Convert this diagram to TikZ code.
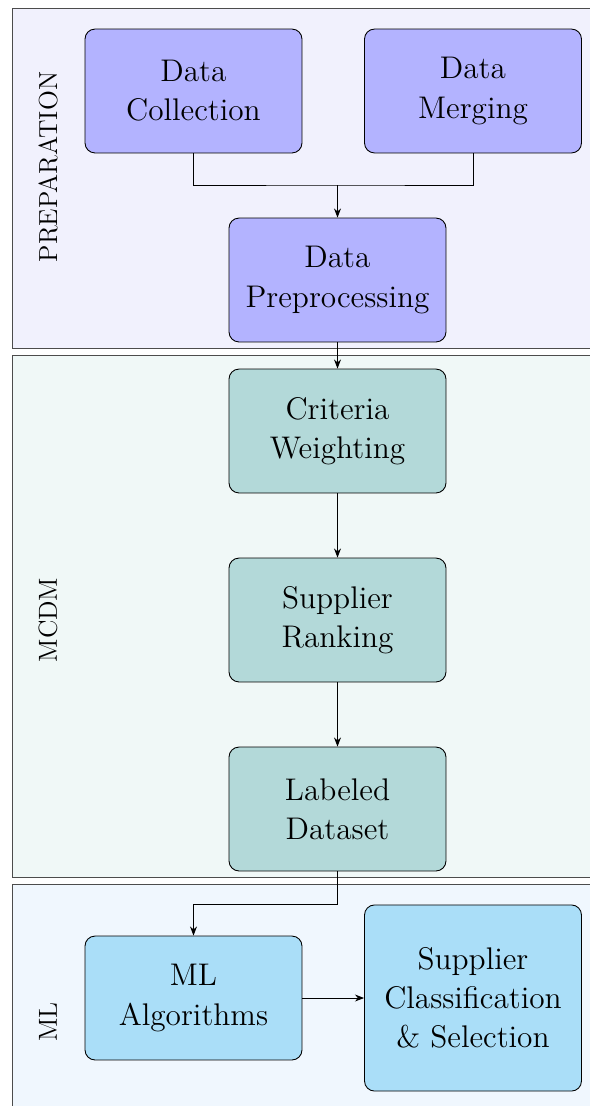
\documentclass[tikz,border=0pt]{standalone}
\usetikzlibrary{arrows.meta}
\definecolor{prepbg}{RGB}{241,241,253}
\definecolor{prepbox}{RGB}{179,179,255}
\definecolor{mcdmbg}{RGB}{240,248,247}
\definecolor{mcdmbox}{RGB}{179,217,217}
\definecolor{mlbg}{RGB}{240,247,254}
\definecolor{mlbox}{RGB}{170,222,248}
\tikzset{
  stage/.style={draw=black!70, line width=0.45pt},
  stagelabel/.style={rotate=90, font=\large, inner sep=0pt},
  proc/.style={draw=black, line width=0.4pt, rounded corners=4.6pt,
    minimum width=99.8pt, minimum height=57pt, align=center,
    font=\Large, inner sep=2pt},
  link/.style={draw=black, line width=0.4pt},
  flow/.style={link, -{Stealth[length=4.2pt,width=3.2pt]}}
}
\begin{document}
\begin{tikzpicture}[x=0.46pt, y=-0.46pt]
\clip (0,0) rectangle (590,1106);
\fill[white] (0,0) rectangle (590,1106);

% stage frames
\draw[stage, fill=prepbg] (12,8) rectangle (620,348);
\draw[stage, fill=mcdmbg] (12,355) rectangle (620,877);
\draw[stage, fill=mlbg] (12,884) rectangle (620,1160);

\node[stagelabel] (lprep) at (48,167) {PREPARATION};
\node[stagelabel] (lmcdm) at (48,620) {MCDM};
\node[stagelabel] (lml) at (48,1022) {ML};

% process steps
\node[proc, fill=prepbox] (collect) at (193.5,91) {Data\\Collection};
\node[proc, fill=prepbox] (merge) at (473,91) {Data\\Merging};
\node[proc, fill=prepbox] (prep) at (337.5,280) {Data\\Preprocessing};
\node[proc, fill=mcdmbox] (weight) at (337.5,431) {Criteria\\Weighting};
\node[proc, fill=mcdmbox] (rank) at (337.5,620) {Supplier\\Ranking};
\node[proc, fill=mcdmbox] (label) at (337.5,809) {Labeled\\Dataset};
\node[proc, fill=mlbox] (algo) at (193.5,998) {ML\\Algorithms};
\node[proc, fill=mlbox, minimum height=85.6pt] (select) at (473,998) {Supplier\\Classification\\\& Selection};

\coordinate (join) at (337.5,185);
\coordinate (turn) at (337.5,904);

% connectors
\draw[link] (collect.south) |- (join) -| (merge.south);
\draw[flow] (join) -- (prep.north);
\draw[flow] (prep) -- (weight);
\draw[flow] (weight) -- (rank);
\draw[flow] (rank) -- (label);
\draw[flow] (label.south) |- (turn) -| (algo.north);
\draw[flow] (algo) -- (select);
\end{tikzpicture}
\end{document}
